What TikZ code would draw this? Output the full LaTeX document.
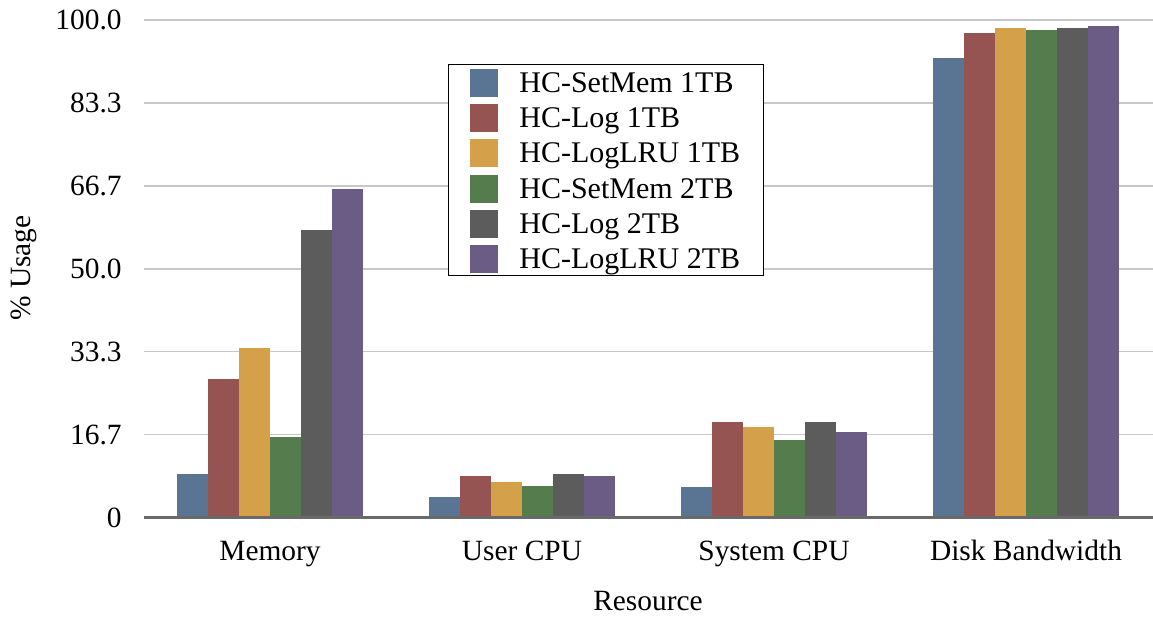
\documentclass[tikz,border=0pt]{standalone}
\usepackage{fontspec}
\setmainfont{Liberation Serif}
\definecolor{cA}{RGB}{90,117,148}
\definecolor{cB}{RGB}{149,83,82}
\definecolor{cC}{RGB}{213,160,74}
\definecolor{cD}{RGB}{84,124,76}
\definecolor{cE}{RGB}{92,92,92}
\definecolor{cF}{RGB}{106,92,132}
\begin{document}
\begin{tikzpicture}[x=0.5pt,y=-0.5pt,
  lbl/.style={font=\fontsize{14.7pt}{17pt}\selectfont, inner sep=0pt},
  leglbl/.style={font=\fontsize{15pt}{17pt}\selectfont, inner sep=0pt},
  grid/.style={draw={rgb,255:red,200;green,200;blue,200}, line width=0.8pt},
  baseaxis/.style={draw={rgb,255:red,105;green,105;blue,105}, line width=1.1pt},
  bar/.style={draw=none},
  legbox/.style={draw=black, fill=white, line width=0.5pt}]
\useasboundingbox (0,0) rectangle (1153,618);
% gridlines and tick labels
\foreach \k/\t in {1/16.7,2/33.3,3/50.0,4/66.7,5/83.3,6/100.0}{
  \pgfmathsetmacro{\yy}{517.4-82.9*\k}
  \draw[grid] (144,\yy) -- (1153,\yy);
  \node[lbl, anchor=east] (t\k) at (122,\yy) {\t};
}
\node[lbl, anchor=east] (t0) at (122,517.4) {0};
% bars
\def\barrow#1#2{%
  \foreach \v [count=\j from 0] in {#2}{
    \pgfmathsetmacro{\xl}{270+252*#1-93+31*\j}
    \pgfmathsetmacro{\xr}{\xl+31}
    \pgfmathsetmacro{\yt}{517.4-4.974*\v}
    \ifcase\j \def\cc{cA}\or\def\cc{cB}\or\def\cc{cC}\or\def\cc{cD}\or\def\cc{cE}\or\def\cc{cF}\fi
    \fill[bar, fill=\cc] (\xl,517.4) rectangle (\xr,\yt);
  }}
\barrow{0}{8.7,27.8,34.1,16.2,57.8,66.1}
\barrow{1}{4.1,8.3,7.1,6.3,8.7,8.3}
\barrow{2}{6.1,19.2,18.2,15.6,19.2,17.2}
\barrow{3}{92.4,97.3,98.3,97.9,98.3,98.7}
\draw[baseaxis] (144,517.4) -- (1153,517.4);
% category labels
\node[lbl, anchor=base] (c0) at (270,560) {Memory};
\node[lbl, anchor=base] (c1) at (522,560) {User CPU};
\node[lbl, anchor=base] (c2) at (774,560) {System CPU};
\node[lbl, anchor=base] (c3) at (1026,560) {Disk Bandwidth};
\node[lbl, anchor=base] (xt) at (648,610) {Resource};
\node[lbl, rotate=90, anchor=center] (yt) at (24,268) {\% Usage};
% legend
\draw[legbox] (448,64) rectangle (763,275);
\foreach \n/\c [count=\k from 0] in {HC-SetMem 1TB/cA,HC-Log 1TB/cB,HC-LogLRU 1TB/cC,HC-SetMem 2TB/cD,HC-Log 2TB/cE,HC-LogLRU 2TB/cF}{
  \pgfmathsetmacro{\ry}{83+35.2*\k}
  \fill[fill=\c] (470,\ry-14) rectangle (498,\ry+14);
  \node[leglbl, anchor=base west] (l\k) at (519,\ry+9.5) {\n};
}
\end{tikzpicture}
\end{document}
